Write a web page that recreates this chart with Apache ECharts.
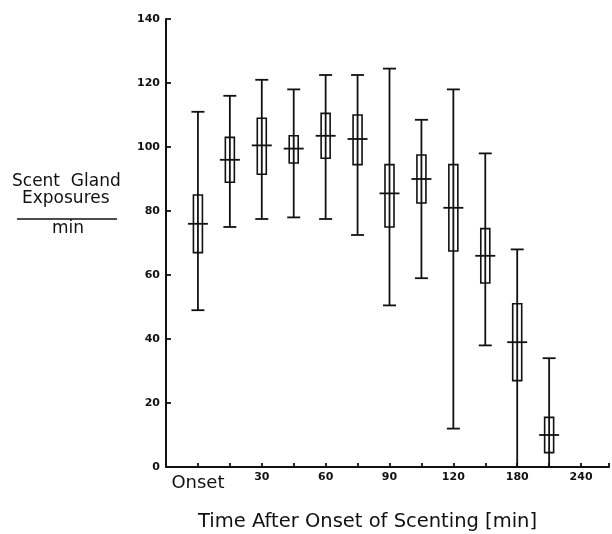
<!DOCTYPE html>
<html>
<head>
<meta charset="utf-8">
<script src="https://cdn.jsdelivr.net/npm/echarts@6/dist/echarts.min.js"></script>
<style>
  html, body { margin: 0; padding: 0; background: #fff; }
  #chart-container { width: 612px; height: 534px; }
</style>
</head>
<body>
<div id="chart-container"></div>
<script>
// time points: Onset, 15, 30, 45, 60, 75, 90, 105, 120, 150, 180, 210, 240 min
var tickLabels = ['Onset', '', '30', '', '60', '', '90', '', '120', '', '180', '', '240'];

// one box per time point (last one, 240, has no box)
var lows    = [49, 75, 77.5, 78, 77.5, 72.5, 50.5, 59, 12, 38, 0, 0];
var q1s     = [67, 89, 91.5, 95, 96.5, 94.5, 75, 82.5, 67.5, 57.5, 27, 4.5];
var medians = [76, 96, 100.5, 99.5, 103.5, 102.5, 85.5, 90, 81, 66, 39, 10];
var q3s     = [85, 103, 109, 103.5, 110.5, 110, 94.5, 97.5, 94.5, 74.5, 51, 15.5];
var highs   = [111, 116, 121, 118, 122.5, 122.5, 124.5, 108.5, 118, 98, 68, 34];

var ink = '#111';

var boxData = lows.map(function (lo, i) {
  return [i, lo, q1s[i], medians[i], q3s[i], highs[i]];
});

function renderBox(params, api) {
  var x = api.value(0);
  var pLow = api.coord([x, api.value(1)]);
  var pQ1 = api.coord([x, api.value(2)]);
  var pMed = api.coord([x, api.value(3)]);
  var pQ3 = api.coord([x, api.value(4)]);
  var pHigh = api.coord([x, api.value(5)]);
  var cx = pLow[0];
  var capW = 13, boxW = 9, medW = 20;
  var lineStyle = { stroke: ink, lineWidth: 1.8, fill: null };
  return {
    type: 'group',
    children: [
      { type: 'line', shape: { x1: cx, y1: pLow[1], x2: cx, y2: pHigh[1] }, style: lineStyle },
      { type: 'line', shape: { x1: cx - capW / 2, y1: pHigh[1], x2: cx + capW / 2, y2: pHigh[1] }, style: lineStyle },
      { type: 'line', shape: { x1: cx - capW / 2, y1: pLow[1], x2: cx + capW / 2, y2: pLow[1] }, style: lineStyle },
      { type: 'rect', shape: { x: cx - boxW / 2, y: pQ3[1], width: boxW, height: pQ1[1] - pQ3[1] },
        style: { stroke: ink, lineWidth: 1.6, fill: null } },
      { type: 'line', shape: { x1: cx - medW / 2, y1: pMed[1], x2: cx + medW / 2, y2: pMed[1] }, style: lineStyle }
    ]
  };
}

var dom = document.getElementById('chart-container');
var myChart = echarts.init(dom, null, { renderer: 'canvas' });

var option = {
  animation: false,
  textStyle: { fontFamily: 'DejaVu Sans', color: ink },
  grid: { left: 166, right: 2, top: 19, bottom: 67 },
  xAxis: {
    type: 'value',
    min: -1,
    max: 12.875,
    interval: 1,
    splitLine: { show: false },
    axisLine: { onZero: false, lineStyle: { color: ink, width: 2 } },
    axisTick: { inside: true, length: 4, lineStyle: { color: ink, width: 1.8 } },
    axisLabel: {
      margin: 5,
      color: ink,
      fontSize: 11,
      fontWeight: 'bold',
      formatter: function (v) {
        if (v < 0 || v !== Math.round(v)) return '';
        var t = tickLabels[v] || '';
        if (t === 'Onset') return '{big|' + t + '}';
        return t;
      },
      rich: { big: { fontSize: 18, fontWeight: 'normal', color: ink, fontFamily: 'DejaVu Sans', padding: [2, 0, 0, 0] } }
    }
  },
  yAxis: {
    type: 'value',
    min: 0,
    max: 140,
    interval: 20,
    splitLine: { show: false },
    axisLine: { show: true, onZero: false, lineStyle: { color: ink, width: 2 } },
    axisTick: { show: true, inside: true, length: 5, lineStyle: { color: ink, width: 1.8 } },
    axisLabel: { margin: 6, color: ink, fontSize: 11, fontWeight: 'bold' }
  },
  graphic: [
    { type: 'text', left: 12, top: 173, style: { text: 'Scent  Gland', font: '17px "DejaVu Sans"', fill: ink } },
    { type: 'text', left: 22, top: 190, style: { text: 'Exposures', font: '17px "DejaVu Sans"', fill: ink } },
    { type: 'line', shape: { x1: 17, y1: 219, x2: 117, y2: 219 }, style: { stroke: ink, lineWidth: 1.4 } },
    { type: 'text', left: 52, top: 220, style: { text: 'min', font: '17px "DejaVu Sans"', fill: ink } },
    { type: 'text', left: 198, top: 512, style: { text: 'Time After Onset of Scenting [min]', font: '19.5px "DejaVu Sans"', fill: ink } }
  ],
  series: [{
    type: 'custom',
    renderItem: renderBox,
    data: boxData,
    encode: { x: 0, y: [1, 2, 3, 4, 5] },
    clip: false
  }]
};

myChart.setOption(option);
window.addEventListener('resize', myChart.resize);
</script>
</body>
</html>
